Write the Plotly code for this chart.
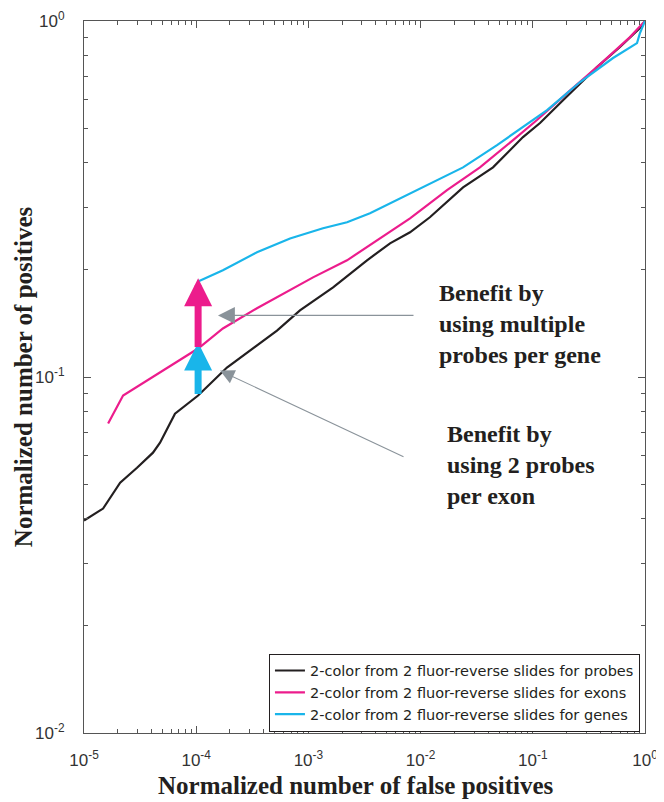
import numpy as np
import plotly.graph_objects as go

# ---- data ----
probes_x = [1.0e-5, 1.48e-5, 2.10e-5, 2.97e-5, 4.12e-5, 4.76e-5, 6.47e-5, 1.04e-4, 1.88e-4,
            5.25e-4, 8.41e-4, 1.66e-3, 3.33e-3, 5.34e-3, 8.05e-3, 1.21e-2, 2.39e-2, 4.42e-2,
            8.18e-2, 1.16e-1, 1.86e-1, 3.73e-1, 5.98e-1, 9.02e-1, 1.0]
probes_y = [0.0395, 0.0427, 0.0505, 0.0556, 0.0613, 0.0654, 0.0789, 0.0887, 0.1063,
            0.135, 0.1538, 0.1785, 0.2127, 0.2374, 0.255, 0.281, 0.341, 0.388,
            0.472, 0.517, 0.599, 0.742, 0.845, 0.956, 1.0]

exons_x = [1.64e-5, 2.23e-5, 1.04e-4, 1.73e-4, 3.48e-4, 6.86e-4, 1.10e-3, 2.21e-3, 4.08e-3,
           8.05e-3, 1.72e-2, 3.38e-2, 6.67e-2, 1.09e-1, 2.02e-1, 3.73e-1, 7.35e-1, 1.0]
exons_y = [0.074, 0.0887, 0.1202, 0.1369, 0.156, 0.175, 0.1905, 0.2127, 0.242,
           0.279, 0.335, 0.388, 0.463, 0.527, 0.627, 0.742, 0.901, 1.0]

genes_x = [1.04e-4, 1.73e-4, 3.48e-4, 6.86e-4, 1.35e-3, 2.21e-3, 3.54e-3, 5.34e-3, 8.05e-3,
           1.29e-2, 2.39e-2, 4.8e-2, 8.18e-2, 1.34e-1, 2.64e-1, 5.19e-1, 8.49e-1, 9.02e-1, 1.0]
genes_y = [0.1856, 0.1994, 0.224, 0.245, 0.2617, 0.272, 0.2884, 0.3076, 0.328,
           0.3525, 0.388, 0.448, 0.503, 0.562, 0.674, 0.787, 0.867, 0.925, 1.0]

series_names = ["2-color from 2 fluor-reverse slides for probes",
                "2-color from 2 fluor-reverse slides for exons",
                "2-color from 2 fluor-reverse slides for genes"]
series_colors = ["#231f20", "#ec1c8c", "#19b5ea"]

x_tickvals = [1e-5, 1e-4, 1e-3, 1e-2, 1e-1, 1]
x_ticktext = ["10<sup>-5</sup>", "10<sup>-4</sup>", "10<sup>-3</sup>", "10<sup>-2</sup>",
              "10<sup>-1</sup>", "10<sup>0</sup>"]
y_tickvals = [1e-2, 1e-1, 1]
y_ticktext = ["10<sup>-2</sup>", "10<sup>-1</sup>", "10<sup>0</sup>"]

x_title = "Normalized number of false positives"
y_title = "Normalized number of positives"
note_gene = ["Benefit by", "using multiple", "probes per gene"]
note_exon = ["Benefit by", "using 2 probes", "per exon"]

# benefit arrows at this false-positive level
arrow_x = 1.04e-4

fig = go.Figure()
for xs, ys, name, col in zip([probes_x, exons_x, genes_x], [probes_y, exons_y, genes_y],
                             series_names, series_colors):
    fig.add_trace(go.Scatter(x=xs, y=ys, mode="lines", name=name,
                             line=dict(color=col, width=2.2)))

lx = np.log10
black_at = probes_y[probes_x.index(arrow_x)]
pink_at = exons_y[exons_x.index(arrow_x)]
cyan_at = genes_y[genes_x.index(arrow_x)]

annos = []
# thick coloured arrows
annos.append(dict(x=lx(arrow_x), y=lx(pink_at * 1.04), ax=lx(arrow_x), ay=lx(black_at),
                  xref="x", yref="y", axref="x", ayref="y", text="", showarrow=True,
                  arrowhead=2, arrowsize=0.8, arrowwidth=7, arrowcolor="#19b5ea"))
annos.append(dict(x=lx(arrow_x), y=lx(cyan_at * 1.02), ax=lx(arrow_x), ay=lx(pink_at),
                  xref="x", yref="y", axref="x", ayref="y", text="", showarrow=True,
                  arrowhead=2, arrowsize=0.8, arrowwidth=7, arrowcolor="#ec1c8c"))
# gray pointer arrows
annos.append(dict(x=-3.806, y=-0.827, ax=-2.05, ay=-0.827,
                  xref="x", yref="y", axref="x", ayref="y", text="", showarrow=True,
                  arrowhead=2, arrowsize=2.6, arrowwidth=1.3, arrowcolor="#8a939a"))
annos.append(dict(x=-3.788, y=-0.982, ax=-2.139, ay=-1.226,
                  xref="x", yref="y", axref="x", ayref="y", text="", showarrow=True,
                  arrowhead=2, arrowsize=2.6, arrowwidth=1.1, arrowcolor="#8a939a"))
# notes
tfont = dict(family="Liberation Serif, Times New Roman, serif", size=24, color="#231f20")
annos.append(dict(x=-1.854, y=-0.722, xref="x", yref="y",
                  text="<br>".join("<b>%s</b>" % s for s in note_gene),
                  showarrow=False, xanchor="left", yanchor="top", align="left", font=tfont))
annos.append(dict(x=-1.783, y=-1.118, xref="x", yref="y",
                  text="<br>".join("<b>%s</b>" % s for s in note_exon),
                  showarrow=False, xanchor="left", yanchor="top", align="left", font=tfont))
# axis titles
title_font = dict(family="Liberation Serif, Times New Roman, serif", size=25, color="#231f20")
annos.append(dict(x=0.484, y=-0.074, xref="paper", yref="paper", text="<b>" + x_title + "</b>",
                  showarrow=False, xanchor="center", yanchor="middle", font=title_font))
annos.append(dict(x=-0.109, y=0.501, xref="paper", yref="paper", text="<b>" + y_title + "</b>",
                  showarrow=False, xanchor="center", yanchor="middle", textangle=-90, font=title_font))

axis_common = dict(type="log", showline=True, linecolor="#555555", linewidth=1,
                   ticks="inside", ticklen=7, tickcolor="#555555", mirror="allticks",
                   showgrid=False, zeroline=False, automargin=False, tickmode="array",
                   tickfont=dict(family="Liberation Sans, Arial, sans-serif", size=17, color="#333333"),
                   minor=dict(ticks="inside", ticklen=4, tickcolor="#555555", dtick="D1", showgrid=False))

# note: the page body adds an 8px offset, margins compensate for it
fig.update_layout(
    width=664, height=802,
    margin=dict(l=76, r=27, t=13, b=77),
    paper_bgcolor="white", plot_bgcolor="white",
    xaxis=dict(range=[-5, 0], ticklabelstandoff=12, tickvals=x_tickvals, ticktext=x_ticktext,
               **axis_common),
    yaxis=dict(range=[-2, 0], ticklabelstandoff=15, tickvals=y_tickvals, ticktext=y_ticktext,
               **axis_common),
    legend=dict(x=0.991, y=0.002, xanchor="right", yanchor="bottom",
                bordercolor="#231f20", borderwidth=1, bgcolor="white",
                font=dict(family="DejaVu Sans, sans-serif", size=14.5, color="#231f20"),
                itemwidth=30, tracegroupgap=0),
    annotations=annos,
    showlegend=True,
)

fig.write_html("out.html")
